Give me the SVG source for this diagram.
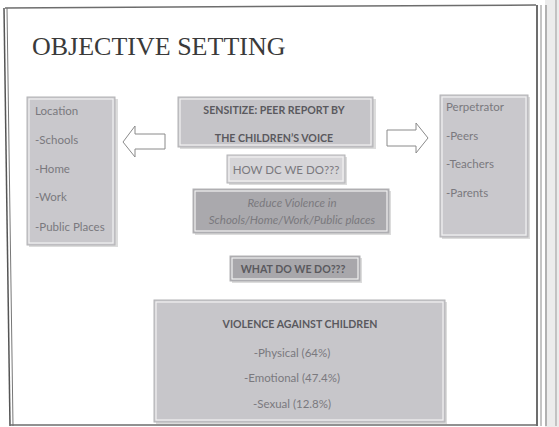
<svg xmlns="http://www.w3.org/2000/svg" width="559" height="427" viewBox="0 0 559 427">
<style>
.bx{stroke:#b3b3b6;stroke-width:1}
.in{fill:none;stroke:#f2f2f2;stroke-width:1.2}
.sh{fill:#dcdcdc}
.t{font-family:Lato,"Open Sans","Liberation Sans",sans-serif;font-size:11.5px;fill:#7a797e}
.b{font-family:Lato,"Open Sans","Liberation Sans",sans-serif;font-size:10.6px;font-weight:bold;fill:#5a595e;text-anchor:middle}
.c{text-anchor:middle}
.ar{fill:#ffffff;stroke:#8a8a8a;stroke-width:1}
</style>
<rect width="559" height="427" fill="#ffffff"/>
<!-- scan frame -->
<rect x="545" y="0" width="14" height="427" fill="#ececec"/>
<line x1="5" y1="8" x2="536" y2="5" stroke="#6d6d6d" stroke-width="1.5"/>
<line x1="4" y1="8" x2="10" y2="426" stroke="#555" stroke-width="1.5"/>
<line x1="7" y1="8" x2="13" y2="426" stroke="#777" stroke-width="1"/>
<line x1="537" y1="5" x2="537" y2="426" stroke="#3d3d3d" stroke-width="1.5"/>
<line x1="541" y1="5" x2="541" y2="426" stroke="#8a8a8a" stroke-width="1"/>
<line x1="546" y1="5" x2="546" y2="426" stroke="#777" stroke-width="1"/>
<line x1="556" y1="0" x2="556" y2="426" stroke="#999" stroke-width="1"/>
<line x1="10" y1="425" x2="537" y2="425" stroke="#6d6d6d" stroke-width="1.5"/>

<text x="32" y="55" font-family="'Liberation Serif',serif" font-size="26" fill="#3a3a3a">OBJECTIVE SETTING</text>

<g id="location">
<rect class="sh" x="29" y="99" width="89" height="148"/>
<rect class="bx" x="27" y="97" width="88" height="148" fill="#c9c8cc"/>
<rect class="in" x="29" y="99" width="84" height="144"/>
<text class="t" x="35" y="115">Location</text>
<text class="t" x="35" y="144">-Schools</text>
<text class="t" x="35" y="173">-Home</text>
<text class="t" x="35" y="201">-Work</text>
<text class="t" x="35" y="231">-Public Places</text>
</g>

<g id="sensitize">
<rect class="sh" x="180" y="99" width="196" height="50"/>
<rect class="bx" x="178" y="97" width="195" height="50" fill="#c5c4c8"/>
<rect class="in" x="180" y="99" width="191" height="46"/>
<text class="b" x="274" y="114">SENSITIZE: PEER REPORT BY</text>
<text class="b" x="274" y="142">THE CHILDREN’S VOICE</text>
</g>

<g id="how">
<rect class="sh" x="229" y="157" width="118" height="28"/>
<rect class="bx" x="227" y="155" width="118" height="28" fill="#d6d5d8"/>
<rect class="in" x="229" y="157" width="114" height="24"/>
<text class="t c" x="286" y="174">HOW DC WE DO???</text>
</g>

<g id="reduce">
<rect class="sh" x="195" y="191" width="196" height="44"/>
<rect class="bx" x="193" y="189" width="196" height="44" fill="#aaa9ad"/>
<rect class="in" x="195" y="191" width="192" height="40"/>
<text class="t c" x="292" y="207" font-size="12px" font-style="italic" fill="#828186">Reduce Violence in</text>
<text class="t c" x="292" y="224" font-size="12px" font-style="italic" fill="#828186">Schools/Home/Work/Public places</text>
</g>

<g id="perpetrator">
<rect class="sh" x="442" y="97" width="88" height="142"/>
<rect class="bx" x="440" y="95" width="88" height="142" fill="#c9c8cc"/>
<rect class="in" x="442" y="97" width="84" height="138"/>
<text class="t" x="446" y="111">Perpetrator</text>
<text class="t" x="446" y="140">-Peers</text>
<text class="t" x="446" y="168">-Teachers</text>
<text class="t" x="446" y="197">-Parents</text>
</g>

<g id="what">
<rect class="sh" x="232" y="258" width="130" height="25"/>
<rect class="bx" x="230" y="256" width="130" height="25" fill="#a8a7ab"/>
<rect class="in" x="232" y="258" width="126" height="21"/>
<text class="b" x="293" y="273" fill="#5e5d62">WHAT DO WE DO???</text>
</g>

<g id="violence">
<rect class="sh" x="156" y="302" width="291" height="122"/>
<rect class="bx" x="154" y="300" width="291" height="122" fill="#c7c6ca"/>
<rect class="in" x="156" y="302" width="287" height="118"/>
<text class="b" x="300" y="328">VIOLENCE AGAINST CHILDREN</text>
<text class="t c" x="292" y="357">-Physical (64%)</text>
<text class="t c" x="292" y="382">-Emotional (47.4%)</text>
<text class="t c" x="292" y="408">-Sexual (12.8%)</text>
</g>

<g id="connectors">
<polygon class="ar" points="123,142 135,126 135,134 165,134 165,149 135,149 135,157"/>
<polygon class="ar" points="428,138 416,123 416,130 387,130 387,146 416,146 416,153"/>
</g>
</svg>
